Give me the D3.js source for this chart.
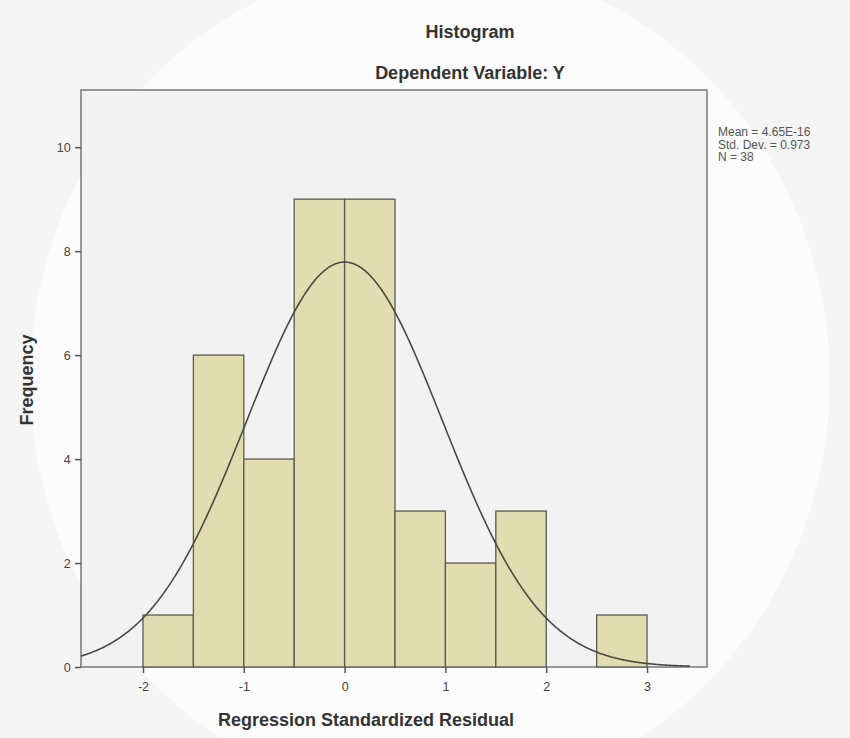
<!DOCTYPE html>
<html><head><meta charset="utf-8">
<script src="https://cdn.jsdelivr.net/npm/d3@7"></script>
<style>body{margin:0;background:#fff}svg{display:block}</style>
</head><body>
<svg id="c" width="850" height="738"></svg>
<script>
const binStarts = [-2, -1.5, -1, -0.5, 0, 0.5, 1, 1.5, 2, 2.5];
const binWidth = 0.5;
const frequencies = [1, 6, 4, 9, 9, 3, 2, 3, 0, 1];
const xTicks = [-2, -1, 0, 1, 2, 3];
const yTicks = [0, 2, 4, 6, 8, 10];
const meanVal = 4.65e-16, sdVal = 0.973, nVal = 38;
const statLines = ["Mean = 4.65E-16", "Std. Dev. = 0.973", "N = 38"];

const svg = d3.select("#c");
const L = 81, R = 707, T = 90, B = 667;
svg.append("rect").attr("width",850).attr("height",738).attr("fill","#f5f5f5");
svg.append("ellipse").attr("cx",430).attr("cy",380).attr("rx",400).attr("ry",420).attr("fill","#fcfcfc");

const x = d3.scaleLinear().domain([-2.615, 3.595]).range([L, R]);
const y = d3.scaleLinear().domain([0, 11.1]).range([B, T]);

svg.append("rect").attr("x",L).attr("y",T).attr("width",R-L).attr("height",B-T)
  .attr("fill","#f2f2f2").attr("stroke","#777").attr("stroke-width",1.5);

svg.append("g").selectAll("rect").data(frequencies.map((f,i)=>({s:binStarts[i],f})).filter(d=>d.f>0))
  .join("rect")
  .attr("x",d=>x(d.s)).attr("width",d=>x(d.s+binWidth)-x(d.s))
  .attr("y",d=>y(d.f)).attr("height",d=>y(0)-y(d.f))
  .attr("fill","#e2ddb0").attr("stroke","#5a5a50").attr("stroke-width",1.3);

const pts = d3.range(-2.615, 3.43, 0.01).map(v=>[v, nVal*binWidth*Math.exp(-0.5*((v-meanVal)/sdVal)**2)/(sdVal*Math.sqrt(2*Math.PI))]);
svg.append("path").datum(pts).attr("fill","none").attr("stroke","#4a4a42").attr("stroke-width",1.6)
  .attr("d", d3.line().x(d=>x(d[0])).y(d=>y(d[1])).curve(d3.curveBasis));

const xa = svg.append("g").attr("transform",`translate(0,${B})`)
  .call(d3.axisBottom(x).tickValues(xTicks).tickSize(6).tickFormat(d=>String(d)));
const ya = svg.append("g").attr("transform",`translate(${L},0)`)
  .call(d3.axisLeft(y).tickValues(yTicks).tickSize(6).tickFormat(d=>String(d)));
[xa,ya].forEach(a=>{
  a.select(".domain").remove();
  a.selectAll("line").attr("stroke","#555").attr("stroke-width",1.5);
  a.selectAll("text").attr("fill","#444").attr("font-family","Liberation Sans, Arial, sans-serif").attr("font-size",12.5);
});
xa.selectAll("text").attr("dy","1.2em");
ya.selectAll("text").attr("dx","-0.1em");

const ff = "Liberation Sans, Arial, sans-serif";
svg.append("text").attr("x",470).attr("y",38).attr("text-anchor","middle").attr("font-family",ff)
  .attr("font-size",18).attr("font-weight","bold").attr("fill","#333").text("Histogram");
svg.append("text").attr("x",470).attr("y",79).attr("text-anchor","middle").attr("font-family",ff)
  .attr("font-size",18).attr("font-weight","bold").attr("fill","#333").text("Dependent Variable: Y");
svg.append("text").attr("x",366).attr("y",726).attr("text-anchor","middle").attr("font-family",ff)
  .attr("font-size",18).attr("font-weight","bold").attr("fill","#333").text("Regression Standardized Residual");
svg.append("text").attr("transform","translate(33,380) rotate(-90)").attr("text-anchor","middle").attr("font-family",ff)
  .attr("font-size",18).attr("font-weight","bold").attr("fill","#333").text("Frequency");
svg.append("g").selectAll("text").data(statLines).join("text")
  .attr("x",718).attr("y",(d,i)=>136+i*12.5).attr("font-family",ff).attr("font-size",12).attr("fill","#555").text(d=>d);
</script>
</body></html>
